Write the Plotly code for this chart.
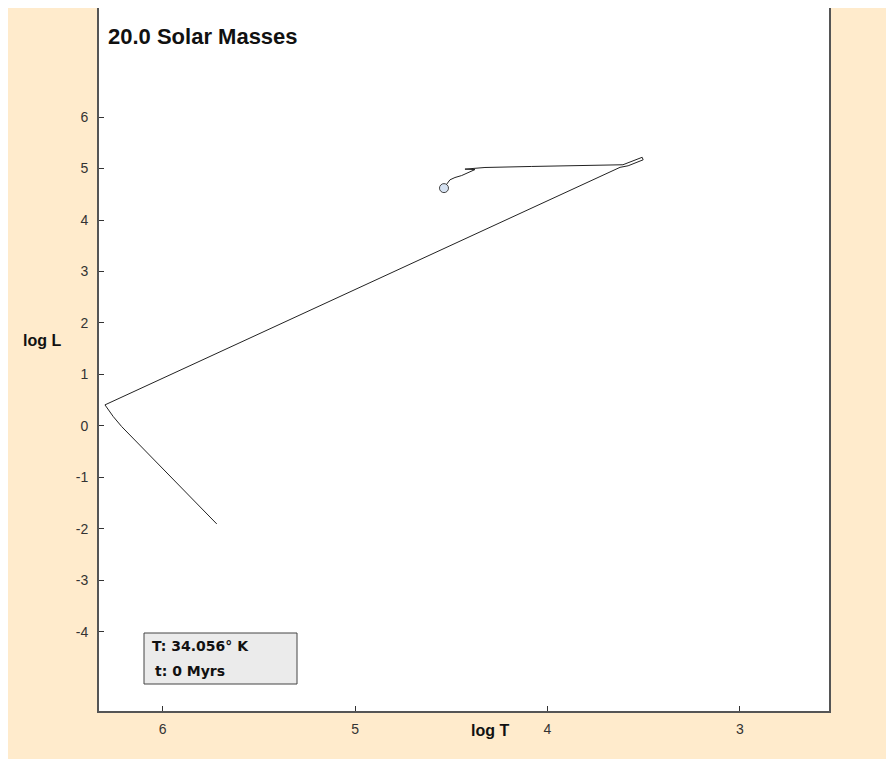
import plotly.graph_objects as go

# Evolutionary track of a 20 solar-mass star (log T, log L)
log_t = [4.538, 4.533, 4.507, 4.481, 4.446, 4.420, 4.394, 4.377, 4.429, 4.325,
         4.082, 3.608, 3.508, 3.503, 3.581, 3.623, 6.300, 6.257, 6.213, 5.780, 5.719]
log_l = [4.620, 4.651, 4.781, 4.826, 4.865, 4.912, 4.956, 4.981, 4.989, 5.021,
         5.041, 5.074, 5.219, 5.170, 5.054, 5.024, 0.408, 0.181, -0.014, -1.666, -1.905]

start_t = [4.538]
start_l = [4.620]

x_ticks = [6, 5, 4, 3]
x_tick_text = ["6", "5", "4", "3"]
y_ticks = [6, 5, 4, 3, 2, 1, 0, -1, -2, -3, -4]
y_tick_text = ["6", "5", "4", "3", "2", "1", "0", "-1", "-2", "-3", "-4"]

title_text = "20.0 Solar Masses"
info_lines = ["T: 34.056° K", "t: 0 Myrs"]

OFF = 8  # page body margin
W, H = 886, 751
L_M, T_M = 91, 0
PW, PH = 730, 703
R_M = W - L_M - PW
B_M = H - T_M - PH


def px(x):
    return (x - OFF - L_M) / PW


def py(y):
    return (T_M + PH - (y - OFF)) / PH


BEIGE = "#FFEBCC"
FONT = "Liberation Sans, Arial, sans-serif"
BOXFONT = "DejaVu Sans, Verdana, sans-serif"

fig = go.Figure()
fig.add_trace(go.Scatter(x=log_t, y=log_l, mode="lines",
                         line=dict(color="#222222", width=1), hoverinfo="skip",
                         showlegend=False))
fig.add_trace(go.Scatter(x=start_t, y=start_l, mode="markers",
                         marker=dict(size=9, color="#D6E2F2",
                                     line=dict(color="#444444", width=1)),
                         showlegend=False))

shapes = [
    dict(type="rect", xref="paper", yref="paper", x0=px(144), x1=px(297),
         y0=py(684), y1=py(633), fillcolor="#EBEBEB",
         line=dict(color="#444444", width=1)),
]

annotations = [
    dict(text="<b>" + title_text + "</b>", xref="paper", yref="paper",
         x=px(106), y=py(36), xanchor="left", yanchor="middle", showarrow=False,
         font=dict(family=FONT, size=22, color="#111111")),
    dict(text="<b>log L</b>", xref="paper", yref="paper", x=px(42), y=py(340),
         xanchor="center", yanchor="middle", showarrow=False,
         font=dict(family=FONT, size=16, color="#111111")),
    dict(text="<b>log T</b>", xref="paper", yref="paper", x=px(490), y=py(730),
         xanchor="center", yanchor="middle", showarrow=False,
         font=dict(family=FONT, size=16, color="#111111")),
    dict(text="<b>" + info_lines[0] + "</b>", xref="paper", yref="paper",
         x=px(150), y=py(646), xanchor="left", yanchor="middle", showarrow=False,
         font=dict(family=BOXFONT, size=14, color="#111111")),
    dict(text="<b>" + info_lines[1] + "</b>", xref="paper", yref="paper",
         x=px(153), y=py(671), xanchor="left", yanchor="middle", showarrow=False,
         font=dict(family=BOXFONT, size=14, color="#111111")),
]

fig.update_layout(
    width=W, height=H,
    margin=dict(l=L_M, r=R_M, t=T_M, b=B_M, pad=0),
    paper_bgcolor=BEIGE, plot_bgcolor="white",
    shapes=shapes, annotations=annotations,
    font=dict(family=FONT, size=14, color="#333333"),
    xaxis=dict(range=[6.331, 2.537], tickvals=x_ticks, ticktext=x_tick_text,
               ticks="inside", ticklen=5, tickcolor="#333333", showgrid=False,
               zeroline=False, showline=True, linecolor="#555555", linewidth=2,
               mirror=False, ticklabelstandoff=4, fixedrange=True),
    yaxis=dict(range=[-5.54, 8.12], tickvals=y_ticks, ticktext=y_tick_text,
               ticks="inside", ticklen=5, tickcolor="#333333", showgrid=False,
               zeroline=False, showline=True, linecolor="#555555", linewidth=2,
               mirror=True, ticklabelstandoff=6, fixedrange=True),
)

fig.write_html("out.html")
